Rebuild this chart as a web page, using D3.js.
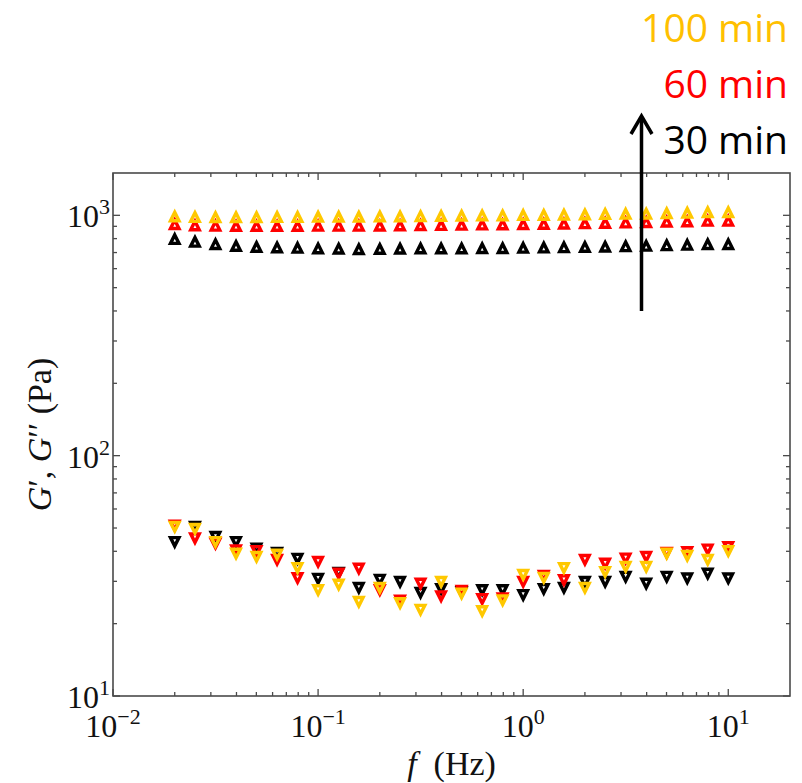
<!DOCTYPE html>
<html>
<head>
<meta charset="utf-8">
<script src="https://cdn.jsdelivr.net/npm/d3@7"></script>
<style>
  html, body { margin: 0; padding: 0; background: #fff; }
  svg { display: block; }
</style>
</head>
<body>
<svg id="chart" width="802" height="783"></svg>
<script>
// Oscillatory frequency sweep (Hz)
const freq = [0.02, 0.0251, 0.0316, 0.0398, 0.0501, 0.0631, 0.0794, 0.1, 0.126, 0.158,
              0.2, 0.251, 0.316, 0.398, 0.501, 0.631, 0.794, 1, 1.26, 1.58,
              2, 2.51, 3.16, 3.98, 5.01, 6.31, 7.94, 10];

// Storage modulus G' (Pa)
const gp30  = [785, 765, 748, 735, 728, 725, 722, 718, 716, 713, 714, 716, 718, 718,
               718, 720, 720, 722, 724, 726, 728, 730, 733, 736, 740, 743, 748, 748];
const gp60  = [905, 895, 892, 890, 890, 890, 890, 892, 892, 892, 893, 895, 897, 898,
               900, 902, 904, 906, 908, 910, 913, 916, 920, 923, 927, 930, 935, 935];
const gp100 = [975, 970, 968, 968, 968, 970, 970, 972, 972, 972, 975, 975, 978, 980,
               982, 985, 985, 988, 990, 992, 995, 998, 1000, 1002, 1005, 1010, 1015, 1015];

// Loss modulus G'' (Pa)
const gpp30  = [44.4, 51.3, 46.6, 44.4, 41.7, 40.0, 37.8, 31.2, 33.0, 28.6, 30.9, 30.3, 27.3, 28.3,
                27.5, 28.0, 28.0, 26.7, 28.3, 28.6, 30.3, 30.3, 31.8, 29.8, 31.8, 31.3, 32.8, 31.3];
const gpp60  = [52.0, 46.0, 43.7, 41.0, 40.7, 37.4, 31.4, 36.7, 32.8, 34.4, 28.0, 25.3, 29.8, 26.4,
                27.8, 25.7, 25.9, 30.3, 32.1, 30.8, 37.4, 36.1, 37.9, 38.5, 40.0, 40.3, 41.3, 42.3];
const gpp100 = [51.3, 50.3, 44.4, 39.7, 38.5, 39.3, 34.6, 28.0, 29.5, 25.0, 28.6, 24.7, 23.2, 30.3,
                27.1, 22.9, 25.4, 32.4, 31.5, 34.6, 28.6, 33.3, 35.0, 35.0, 39.7, 38.9, 37.4, 40.7];

const seriesNames  = ["30 min", "60 min", "100 min"];
const seriesColors = ["#000000", "#ff0000", "#ffc800"];
const legendColors = ["#000000", "#ff0000", "#ffc000"];

const xTickExps = [-2, -1, 0, 1];
const yTickExps = [1, 2, 3];

const svg = d3.select("#chart");
const plotL = 113, plotR = 790, plotT = 173, plotB = 696;

const x = d3.scaleLog().domain([0.01, 20]).range([plotL, plotR]);
const y = d3.scaleLog().domain([10, 1500]).range([plotB, plotT]);

const axisColor = "#4a4a4a";

// minor / major tick positions
const xMinor = [];
for (let e = -2; e <= 1; e++) for (let m = 2; m <= 9; m++) {
  const v = m * Math.pow(10, e);
  if (v < 20) xMinor.push(v);
}
const yMinor = [];
for (let e = 1; e <= 3; e++) for (let m = 2; m <= 9; m++) {
  const v = m * Math.pow(10, e);
  if (v < 1500) yMinor.push(v);
}
const xMajor = xTickExps.map(e => Math.pow(10, e));
const yMajor = yTickExps.map(e => Math.pow(10, e));

const majorLen = 7, minorLen = 4;

// inward ticks on all four sides
function drawTicks() {
  const g = svg.append("g").attr("stroke", axisColor).attr("stroke-width", 1.3);
  xMajor.concat(xMinor).forEach(v => {
    const len = xMajor.includes(v) ? majorLen : minorLen;
    const px = x(v);
    g.append("line").attr("x1", px).attr("x2", px).attr("y1", plotB).attr("y2", plotB - len);
    g.append("line").attr("x1", px).attr("x2", px).attr("y1", plotT).attr("y2", plotT + len);
  });
  yMajor.concat(yMinor).forEach(v => {
    const len = yMajor.includes(v) ? majorLen : minorLen;
    const py = y(v);
    g.append("line").attr("x1", plotL).attr("x2", plotL + len).attr("y1", py).attr("y2", py);
    g.append("line").attr("x1", plotR).attr("x2", plotR - len).attr("y1", py).attr("y2", py);
  });
}
drawTicks();

svg.append("rect")
  .attr("x", plotL).attr("y", plotT)
  .attr("width", plotR - plotL).attr("height", plotB - plotT)
  .attr("fill", "none").attr("stroke", axisColor).attr("stroke-width", 1.6);

// power-of-ten tick labels
const serif = "'Liberation Serif', 'DejaVu Serif', serif";
xTickExps.forEach(e => {
  const t = svg.append("text")
    .attr("x", x(Math.pow(10, e))).attr("y", 737)
    .attr("text-anchor", "middle")
    .attr("font-family", serif).attr("font-size", 32).attr("fill", "#111");
  t.append("tspan").text("10");
  t.append("tspan").attr("dy", -13).attr("font-size", 22).text(e < 0 ? "\u2212" + (-e) : String(e));
});
yTickExps.forEach(e => {
  const t = svg.append("text")
    .attr("x", 110).attr("y", y(Math.pow(10, e)) + 12)
    .attr("text-anchor", "end")
    .attr("font-family", serif).attr("font-size", 32).attr("fill", "#111");
  t.append("tspan").text("10");
  t.append("tspan").attr("dy", -13).attr("font-size", 22).text(String(e));
});

// axis titles
const xt = svg.append("text")
  .attr("x", (plotL + plotR) / 2).attr("y", 775)
  .attr("text-anchor", "middle")
  .attr("font-family", serif).attr("font-size", 34).attr("fill", "#111");
xt.append("tspan").attr("font-style", "italic").text("f");
xt.append("tspan").text("\u2002(Hz)");

const yt = svg.append("text")
  .attr("transform", `translate(51, ${(plotT + plotB) / 2}) rotate(-90)`)
  .attr("text-anchor", "middle")
  .attr("font-family", serif).attr("font-size", 34).attr("fill", "#111");
yt.append("tspan").attr("font-style", "italic").text("G");
yt.append("tspan").text("\u2032, ");
yt.append("tspan").attr("font-style", "italic").text("G");
yt.append("tspan").text("\u2032\u2032 (Pa)");

// thick-outlined triangle markers
const tb = 8.5, th = 8.5;
const upTri   = `M0,${-2 * th / 3}L${tb / 2},${th / 3}L${-tb / 2},${th / 3}Z`;
const downTri = `M0,${2 * th / 3}L${tb / 2},${-th / 3}L${-tb / 2},${-th / 3}Z`;

const storage = [gp30, gp60, gp100];
const loss = [gpp30, gpp60, gpp100];

const marks = svg.append("g");
[0, 1, 2].forEach(s => {
  const g = marks.append("g")
    .attr("fill", "none")
    .attr("stroke", seriesColors[s])
    .attr("stroke-width", 3.4)
    .attr("stroke-linejoin", "miter");
  g.selectAll("path.gp").data(freq.map((f, i) => [f, storage[s][i]]))
    .join("path").attr("class", "gp")
    .attr("d", upTri)
    .attr("transform", d => `translate(${x(d[0])},${y(d[1])})`);
  g.selectAll("path.gpp").data(freq.map((f, i) => [f, loss[s][i]]))
    .join("path").attr("class", "gpp")
    .attr("d", downTri)
    .attr("transform", d => `translate(${x(d[0])},${y(d[1])})`);
});

// ageing-time legend with arrow
const legendY = [154, 98, 42];
seriesNames.forEach((name, s) => {
  svg.append("text")
    .attr("x", 788).attr("y", legendY[s])
    .attr("text-anchor", "end")
    .attr("font-family", "'Open Sans', 'Noto Sans', sans-serif")
    .attr("font-size", 39)
    .attr("fill", legendColors[s])
    .text(name);
});

const arrow = svg.append("g").attr("stroke", "#000").attr("stroke-width", 3.5).attr("fill", "none");
arrow.append("line").attr("x1", 641.5).attr("x2", 641.5).attr("y1", 311).attr("y2", 117);
arrow.append("path").attr("d", "M631,134L641.5,116L652,134").attr("stroke-linejoin", "miter");
</script>
</body>
</html>
